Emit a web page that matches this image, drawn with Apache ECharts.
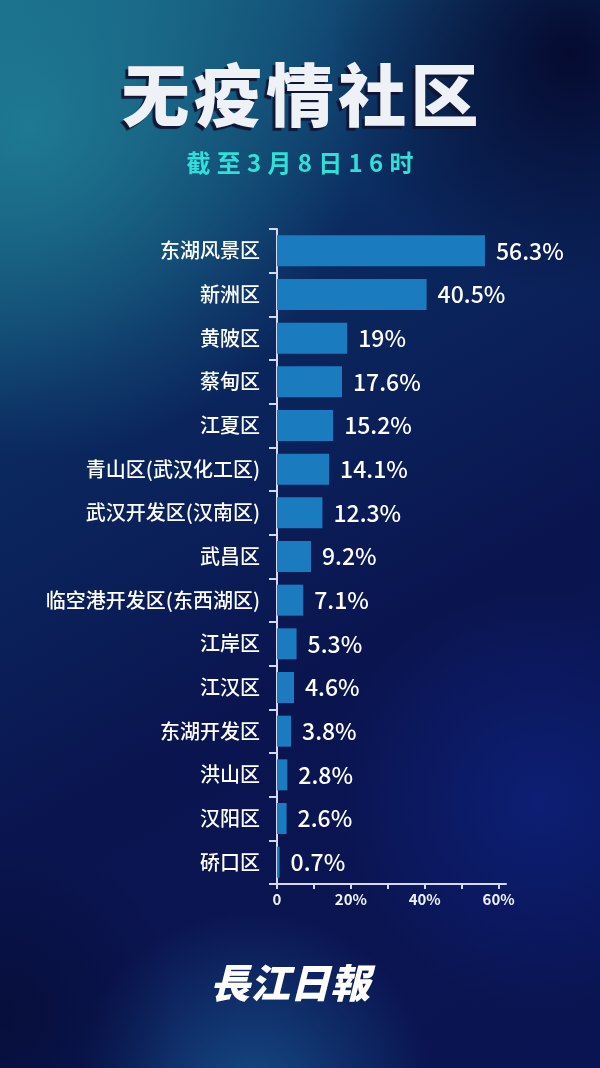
<!DOCTYPE html>
<html><head><meta charset="utf-8">
<script src="https://cdn.jsdelivr.net/npm/echarts@6/dist/echarts.min.js"></script>
<style>html,body{margin:0;padding:0;background:#0a1550;}#c{width:600px;height:1068px;}</style>
</head><body><div id="c"></div>
<script>
const categories = ['东湖风景区','新洲区','黄陂区','蔡甸区','江夏区','青山区(武汉化工区)','武汉开发区(汉南区)','武昌区','临空港开发区(东西湖区)','江岸区','江汉区','东湖开发区','洪山区','汉阳区','硚口区'];
const values = [56.3, 40.5, 19, 17.6, 15.2, 14.1, 12.3, 9.2, 7.1, 5.3, 4.6, 3.8, 2.8, 2.6, 0.7];
const xTicks = [0, 20, 40, 60];
const titleText = '无疫情社区';
const subtitleText = '截至3月8日16时';
const logoText = '長江日報';

const FONT = '"Noto Sans CJK SC", "Noto Sans", sans-serif';
const chart = echarts.init(document.getElementById('c'), null, {renderer: 'canvas'});
const spaced = (s, sep) => s.split('').join(sep);

const option = {
  backgroundColor: {
    type: 'linear', x: 0, y: 0, x2: 1, y2: 1,
    colorStops: [
      {offset: 0, color: '#176585'},
      {offset: 0.3, color: '#0b2a60'},
      {offset: 0.6, color: '#0a1550'},
      {offset: 1, color: '#0a1452'}
    ]
  },
  graphic: [
    {type: 'rect', silent: true, z: -10, shape: {x: 0, y: 0, width: 600, height: 1068},
      style: {fill: {type: 'radial', x: 0.05, y: 0.12, r: 0.55, colorStops: [
        {offset: 0, color: 'rgba(32,128,150,0.85)'}, {offset: 1, color: 'rgba(32,128,150,0)'}]}}},
    {type: 'rect', silent: true, z: -10, shape: {x: 0, y: 0, width: 600, height: 1068},
      style: {fill: {type: 'radial', x: 0.95, y: 0.05, r: 0.4, colorStops: [
        {offset: 0, color: 'rgba(5,8,45,0.95)'}, {offset: 1, color: 'rgba(5,8,45,0)'}]}}},
    {type: 'rect', silent: true, z: -10, shape: {x: 0, y: 0, width: 600, height: 1068},
      style: {fill: {type: 'radial', x: 0.42, y: 1.02, r: 0.3, colorStops: [
        {offset: 0, color: 'rgba(25,95,150,0.7)'}, {offset: 1, color: 'rgba(25,95,150,0)'}]}}},
    {type: 'rect', silent: true, z: -10, shape: {x: 0, y: 0, width: 600, height: 1068},
      style: {fill: {type: 'radial', x: 0.9, y: 0.75, r: 0.35, colorStops: [
        {offset: 0, color: 'rgba(15,40,150,0.5)'}, {offset: 1, color: 'rgba(15,40,150,0)'}]}}},
    {type: 'rect', silent: true, z: -10, shape: {x: 0, y: 0, width: 600, height: 1068},
      style: {fill: {type: 'radial', x: 0.0, y: 0.95, r: 0.3, colorStops: [
        {offset: 0, color: 'rgba(5,12,50,0.7)'}, {offset: 1, color: 'rgba(5,12,50,0)'}]}}},
    {type: 'text', left: 'center', top: 61, z: 10,
      style: {text: spaced(titleText, '\u200a'), fontSize: 68, fontWeight: 900, fontFamily: FONT,
        fill: '#eef1f6',
        textShadowColor: 'rgba(15,20,50,0.95)', textShadowOffsetX: -3, textShadowOffsetY: 3, textShadowBlur: 1}},
    {type: 'text', left: 'center', top: 151, z: 10,
      style: {text: spaced(subtitleText, '\u2009\u200a'), fontSize: 24, fontWeight: 700, fontFamily: FONT, fill: '#2fe0d8'}},
    {type: 'text', left: 210, top: 963, z: 10,
      style: {text: logoText, fontSize: 40, fontWeight: 900, fontStyle: 'italic',
        fontFamily: '"Noto Sans CJK TC", "Noto Sans CJK SC", serif', fill: '#ffffff'}}
  ],
  grid: {left: 277, top: 229, width: 229, height: 655},
  xAxis: {
    type: 'value', min: 0, max: 62, interval: 10,
    axisLine: {show: true, lineStyle: {color: '#d3daf0', width: 2}},
    axisTick: {show: true, length: 5, lineStyle: {color: '#d3daf0', width: 2}},
    splitLine: {show: false},
    axisLabel: {
      color: '#eef1f8', fontSize: 15, fontWeight: 700, fontFamily: FONT, margin: 8,
      showMaxLabel: false,
      formatter: v => xTicks.indexOf(v) < 0 ? '' : (v === 0 ? '0' : v + '%')
    }
  },
  yAxis: {
    type: 'category', data: categories, inverse: true,
    axisLine: {show: true, lineStyle: {color: '#d3daf0', width: 2}},
    axisTick: {show: true, length: 8, alignWithLabel: false, lineStyle: {color: '#d3daf0', width: 2}},
    axisLabel: {color: '#ffffff', fontSize: 20, fontWeight: 500, fontFamily: FONT, margin: 17}
  },
  series: [{
    type: 'bar', data: values, barWidth: 31,
    itemStyle: {color: '#1b7bbf'},
    label: {show: true, position: 'right', distance: 11, color: '#ffffff', fontSize: 23, fontWeight: 500, fontFamily: FONT,
      formatter: p => p.value + '%'}
  }]
};
chart.setOption(option);
</script>
</body></html>
